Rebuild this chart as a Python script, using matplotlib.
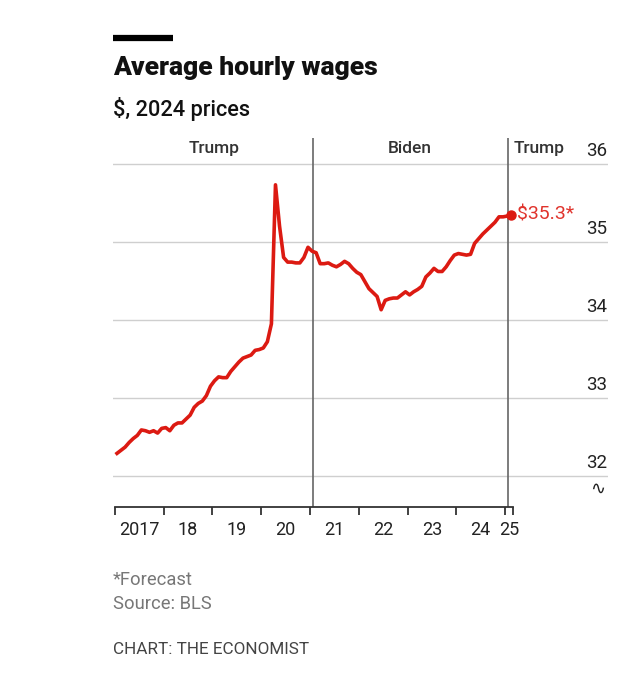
import matplotlib.pyplot as plt
import numpy as np
from matplotlib.lines import Line2D

plt.rcParams['font.family'] = ['Roboto', 'DejaVu Sans']

# average hourly wages, $ 2024 prices, monthly from Jan 2017
wages = [32.29, 32.33, 32.37, 32.43, 32.48, 32.52, 32.59, 32.58, 32.56, 32.58,
         32.55, 32.61, 32.62, 32.58, 32.65, 32.68, 32.68, 32.73, 32.78, 32.88,
         32.93, 32.96, 33.03, 33.15, 33.22, 33.27, 33.26, 33.26, 33.34, 33.40,
         33.46, 33.51, 33.53, 33.55, 33.61, 33.62, 33.64, 33.72, 33.95, 35.73,
         35.20, 34.80, 34.74, 34.74, 34.73, 34.73, 34.80, 34.93, 34.88, 34.86,
         34.72, 34.72, 34.73, 34.70, 34.68, 34.71, 34.75, 34.72, 34.66, 34.61,
         34.58, 34.49, 34.40, 34.35, 34.30, 34.13, 34.25, 34.27, 34.28, 34.28,
         34.32, 34.36, 34.32, 34.36, 34.39, 34.43, 34.55, 34.60, 34.66, 34.62,
         34.62, 34.68, 34.76, 34.83, 34.85, 34.84, 34.83, 34.84, 34.98, 35.04,
         35.10, 35.15, 35.20, 35.25, 35.32, 35.32, 35.33, 35.35]
start_year = 2017
dates = start_year + (np.arange(len(wages)) + 0.5) / 12

year_ticks = list(range(2017, 2026))
year_labels = ['2017', '18', '19', '20', '21', '22', '23', '24', '25']
y_ticks = [32, 33, 34, 35, 36]
presidents = ['Trump', 'Biden', 'Trump']
inaugurations = [2021 + 20 / 365, 2025 + 20 / 365]
last_label = '$35.3*'

red = '#DC1A12'

fig = plt.figure(figsize=(6.4, 6.8), dpi=100)
ax = fig.add_axes([113 / 640, 1 - 507 / 680, 495 / 640, 369 / 680])
ax.set_xlim(2016.96, 2027.11)
ax.set_ylim(31.603, 36.33)

# gridlines
for v in y_ticks:
    ax.axhline(v, color='#cfcfcf', lw=1.0, zorder=1)
    ax.annotate(str(v), (2027.09, v), xytext=(0, 3), textcoords='offset points',
                ha='right', va='bottom', fontsize=13.5, color='#222222')
ax.text(2026.9, 31.84, '∿', fontsize=13, ha='center', va='center',
        color='#222222', family='DejaVu Sans')

# terms
for x in inaugurations:
    ax.axvline(x, color='#666666', lw=1.2, zorder=2)
bounds = [start_year] + inaugurations
ax.text((bounds[0] + bounds[1]) / 2, 36.19, presidents[0], ha='center',
        va='center', fontsize=12.5, fontweight='medium', color='#333333')
ax.text((bounds[1] + bounds[2]) / 2, 36.19, presidents[1], ha='center',
        va='center', fontsize=12.5, fontweight='medium', color='#333333')
ax.text(bounds[2] + 0.12, 36.19, presidents[2], ha='left',
        va='center', fontsize=12.5, fontweight='medium', color='#333333')

# data
ax.plot(dates, wages, color=red, lw=2.6, solid_joinstyle='round', zorder=3)
ax.plot(dates[-1], wages[-1], 'o', color=red, ms=6.5, zorder=4)
ax.annotate(last_label, (dates[-1], wages[-1]), xytext=(4, 0),
            textcoords='offset points', ha='left', va='center',
            fontsize=14, color='#E0332C')

# axes
for s in ['top', 'right', 'left']:
    ax.spines[s].set_visible(False)
ax.spines['bottom'].set_bounds(2017, 2025.17)
ax.spines['bottom'].set_linewidth(1.3)
ax.spines['bottom'].set_color('#333333')
ax.set_yticks([])
ax.set_xticks(year_ticks + [2025.17])
ax.set_xticklabels([])
ax.tick_params(axis='x', which='major', length=6, width=1.3, color='#333333',
               direction='out')
mids = [y + 0.5 for y in year_ticks[:-1]] + [2025.085]
ax.set_xticks(mids, minor=True)
ax.set_xticklabels(year_labels, minor=True)
ax.tick_params(axis='x', which='minor', length=0, pad=10, labelsize=13,
               labelcolor='#222222')

# headings
fig.add_artist(Line2D([113 / 640, 173 / 640], [1 - 38 / 680, 1 - 38 / 680],
                      color='black', lw=4.5, solid_capstyle='butt'))
fig.text(113 / 640, 1 - 68 / 680, 'Average hourly wages', fontsize=19,
         fontweight='heavy', va='center', ha='left', color='#111111')
fig.text(113 / 640, 1 - 109 / 680, '$, 2024 prices', fontsize=15.7,
         fontweight='medium', va='center', ha='left', color='#111111')
fig.text(113 / 640, 1 - 580 / 680, '*Forecast', fontsize=13.2,
         va='center', ha='left', color='#777777')
fig.text(113 / 640, 1 - 604 / 680, 'Source: BLS', fontsize=13.2,
         va='center', ha='left', color='#777777')
fig.text(113 / 640, 1 - 650 / 680, 'CHART: THE ECONOMIST', fontsize=12.3,
         va='center', ha='left', color='#444444')

fig.savefig('out.png', dpi=100, facecolor='white')
